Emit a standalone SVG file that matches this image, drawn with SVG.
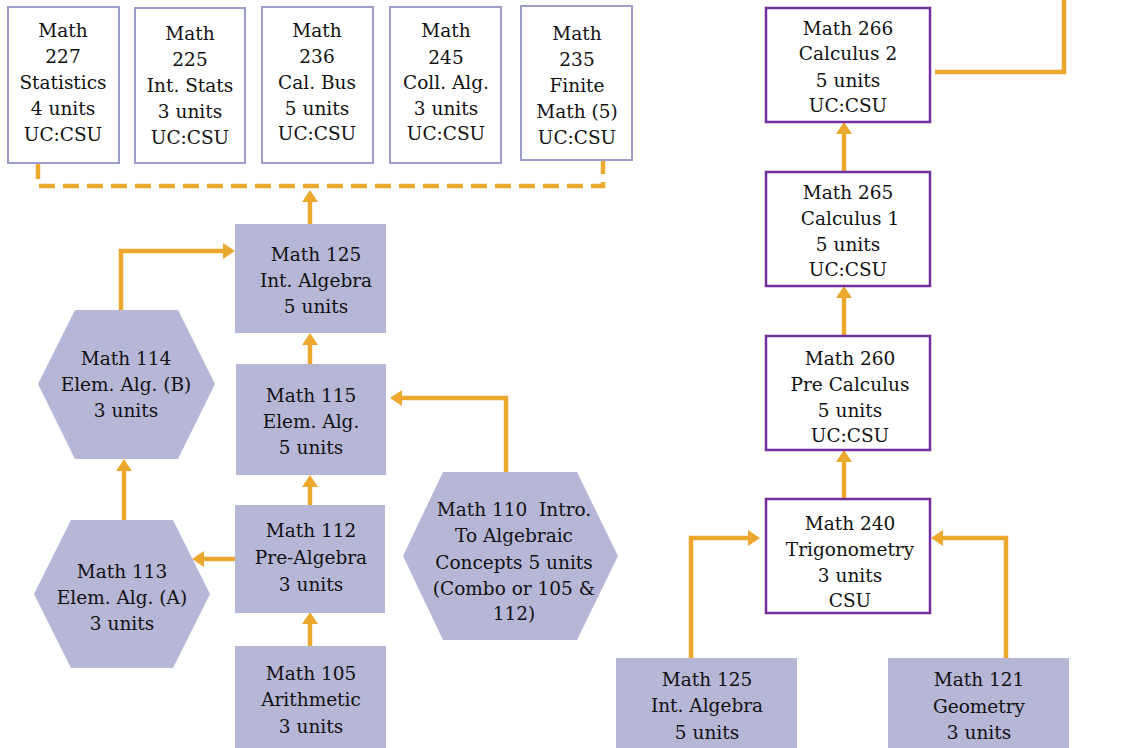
<svg xmlns="http://www.w3.org/2000/svg" width="1148" height="748" viewBox="0 0 1148 748">
<style>
text{font-family:'DejaVu Serif','Liberation Serif',serif;font-size:18.5px;fill:#111;text-anchor:middle}
.pre{white-space:pre}
.top{fill:#fff;stroke:#9d9dcb;stroke-width:2}
.pur{fill:#fff;stroke:#7030a0;stroke-width:2.5}
.lav{fill:#b6b6d6;stroke:none}
.c{fill:none;stroke:#eca82e;stroke-width:4.5}
.d{fill:none;stroke:#eca82e;stroke-width:4.5;stroke-dasharray:16 8}
</style>
<defs>
<marker id="ah" viewBox="0 0 12 16" markerWidth="12" markerHeight="16" refX="4" refY="8" orient="auto" markerUnits="userSpaceOnUse">
<path d="M0,0 L12,8 L0,16 z" fill="#eca82e"/>
</marker>
</defs>

<g id="connectors">
<path class="d" d="M38,163 V186 H603 V160"/>
<path class="c" d="M310,646 V620" marker-end="url(#ah)"/>
<path class="c" d="M310,505 V483" marker-end="url(#ah)"/>
<path class="c" d="M310,364 V341" marker-end="url(#ah)"/>
<path class="c" d="M310,224 V198" marker-end="url(#ah)"/>
<path class="c" d="M235,559 H200" marker-end="url(#ah)"/>
<path class="c" d="M124,520 V467" marker-end="url(#ah)"/>
<path class="c" d="M121,310 V251 H227" marker-end="url(#ah)"/>
<path class="c" d="M506,472 V398 H398" marker-end="url(#ah)"/>
<path class="c" d="M691,658 V538 H752" marker-end="url(#ah)"/>
<path class="c" d="M1006,658 V538 H939" marker-end="url(#ah)"/>
<path class="c" d="M844,499 V458" marker-end="url(#ah)"/>
<path class="c" d="M844,336 V294" marker-end="url(#ah)"/>
<path class="c" d="M844,172 V130" marker-end="url(#ah)"/>
<path class="c" d="M935,72 H1064 V0"/>
</g>

<g id="m227">
<rect class="top" x="8" y="7" width="111" height="156"/>
<text x="63" y="37">Math</text><text x="63" y="63">227</text><text x="63" y="89">Statistics</text><text x="63" y="115">4 units</text><text x="63" y="141">UC:CSU</text>
</g>
<g id="m225">
<rect class="top" x="135" y="8" width="110" height="155"/>
<text x="190" y="40">Math</text><text x="190" y="66">225</text><text x="190" y="92">Int. Stats</text><text x="190" y="118">3 units</text><text x="190" y="144">UC:CSU</text>
</g>
<g id="m236">
<rect class="top" x="262" y="7" width="111" height="156"/>
<text x="317" y="37">Math</text><text x="317" y="63">236</text><text x="317" y="89">Cal. Bus</text><text x="317" y="115">5 units</text><text x="317" y="140">UC:CSU</text>
</g>
<g id="m245">
<rect class="top" x="390" y="7" width="111" height="156"/>
<text x="446" y="37">Math</text><text x="446" y="64">245</text><text x="446" y="89">Coll. Alg.</text><text x="446" y="115">3 units</text><text x="446" y="140">UC:CSU</text>
</g>
<g id="m235">
<rect class="top" x="521" y="6" width="111" height="154"/>
<text x="577" y="40">Math</text><text x="577" y="66">235</text><text x="577" y="92">Finite</text><text x="577" y="118">Math (5)</text><text x="577" y="144">UC:CSU</text>
</g>

<g id="m125a">
<rect class="lav" x="235" y="224" width="151" height="109"/>
<text x="316" y="261">Math 125</text><text x="316" y="287">Int. Algebra</text><text x="316" y="313">5 units</text>
</g>
<g id="m115">
<rect class="lav" x="236" y="364" width="150" height="111"/>
<text x="311" y="402">Math 115</text><text x="311" y="428">Elem. Alg.</text><text x="311" y="454">5 units</text>
</g>
<g id="m112">
<rect class="lav" x="235" y="505" width="150" height="108"/>
<text x="311" y="537">Math 112</text><text x="311" y="564">Pre-Algebra</text><text x="311" y="591">3 units</text>
</g>
<g id="m105">
<rect class="lav" x="235" y="646" width="151" height="102"/>
<text x="311" y="680">Math 105</text><text x="311" y="706">Arithmetic</text><text x="311" y="733">3 units</text>
</g>
<g id="m114">
<polygon class="lav" points="75,310 178,310 215,384 178,459 75,459 38,384"/>
<text x="126" y="365">Math 114</text><text x="126" y="391">Elem. Alg. (B)</text><text x="126" y="417">3 units</text>
</g>
<g id="m113">
<polygon class="lav" points="71,520 173,520 210,594 173,668 71,668 34,594"/>
<text x="122" y="578">Math 113</text><text x="122" y="604">Elem. Alg. (A)</text><text x="122" y="630">3 units</text>
</g>
<g id="m110">
<polygon class="lav" points="443,472 577,472 618,556 577,640 443,640 403,556"/>
<text class="pre" x="514" y="516">Math 110  Intro.</text><text x="514" y="542">To Algebraic</text><text x="514" y="569">Concepts 5 units</text><text x="514" y="595">(Combo or 105 &amp;</text><text x="514" y="620">112)</text>
</g>

<g id="m266">
<rect class="pur" x="766" y="8" width="164" height="114"/>
<text x="848" y="35">Math 266</text><text x="848" y="60">Calculus 2</text><text x="848" y="87">5 units</text><text x="848" y="112">UC:CSU</text>
</g>
<g id="m265">
<rect class="pur" x="766" y="172" width="164" height="114"/>
<text x="848" y="199">Math 265</text><text x="850" y="225">Calculus 1</text><text x="848" y="251">5 units</text><text x="848" y="276">UC:CSU</text>
</g>
<g id="m260">
<rect class="pur" x="766" y="336" width="164" height="114"/>
<text x="850" y="365">Math 260</text><text x="850" y="391">Pre Calculus</text><text x="850" y="417">5 units</text><text x="850" y="442">UC:CSU</text>
</g>
<g id="m240">
<rect class="pur" x="766" y="499" width="164" height="114"/>
<text x="850" y="530">Math 240</text><text x="850" y="556">Trigonometry</text><text x="850" y="582">3 units</text><text x="850" y="607">CSU</text>
</g>
<g id="m125b">
<rect class="lav" x="616" y="658" width="181" height="90"/>
<text x="707" y="686">Math 125</text><text x="707" y="712">Int. Algebra</text><text x="707" y="739">5 units</text>
</g>
<g id="m121">
<rect class="lav" x="888" y="658" width="181" height="90"/>
<text x="979" y="686">Math 121</text><text x="979" y="713">Geometry</text><text x="979" y="739">3 units</text>
</g>
</svg>
